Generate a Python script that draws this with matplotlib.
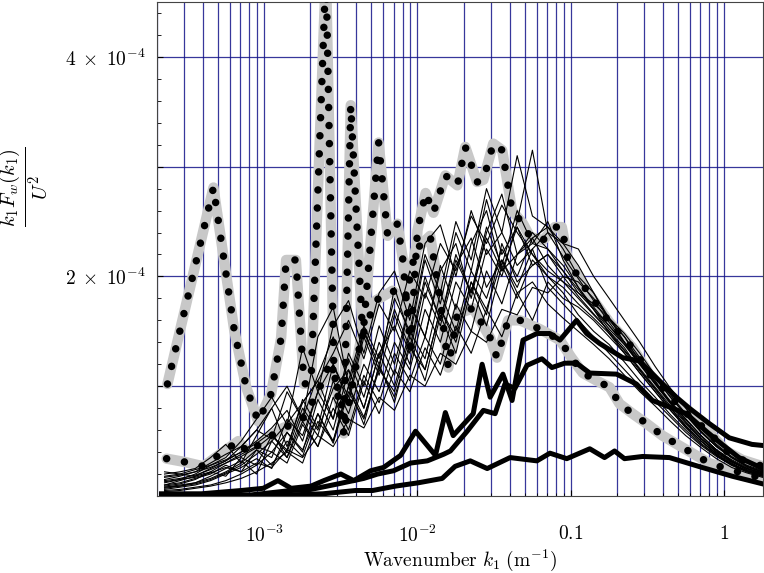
import matplotlib
matplotlib.use("Agg")
import matplotlib.pyplot as plt
from matplotlib.ticker import FixedLocator, LogLocator, NullFormatter

plt.rcParams['mathtext.fontset'] = 'cm'
plt.rcParams['font.family'] = 'serif'
plt.rcParams['font.serif'] = ['cmr10', 'DejaVu Serif']
plt.rcParams['axes.unicode_minus'] = False

SCALE = 1e-4  # all spectra below are stored in units of 1e-4

# wavenumber bins shared by the individual (thin) spectra
k_bins = [2.24e-4, 2.82e-4, 3.55e-4, 4.47e-4, 5.62e-4, 7.08e-4, 8.91e-4, 1.12e-3,
          1.41e-3, 1.78e-3, 2.24e-3, 2.82e-3, 3.55e-3, 4.47e-3, 5.62e-3, 7.08e-3,
          8.91e-3, 1.12e-2, 1.41e-2, 1.78e-2, 2.24e-2, 2.82e-2, 3.55e-2, 4.47e-2,
          5.62e-2, 7.08e-2, 8.91e-2, 0.112, 0.141, 0.178, 0.224, 0.282, 0.355,
          0.447, 0.562, 0.708, 0.891, 1.12, 1.41, 1.78]

thin_spectra = [
    [0.15, 0.18, 0.22, 0.30, 0.38, 0.45, 0.60, 0.52, 0.95, 0.70, 1.10, 1.45, 1.05, 1.55, 1.25, 1.80, 1.50, 2.20, 1.85, 2.50,
     2.15, 2.80, 2.40, 3.10, 2.55, 2.45, 2.25, 2.00, 1.85, 1.60, 1.45, 1.22, 1.05, 0.85, 0.70, 0.55, 0.42, 0.33, 0.26, 0.22],
    [0.10, 0.12, 0.16, 0.20, 0.28, 0.22, 0.42, 0.35, 0.70, 0.55, 0.95, 0.70, 1.25, 0.90, 1.40, 1.10, 1.75, 1.45, 2.10, 1.70,
     2.30, 2.60, 2.05, 2.20, 2.35, 2.10, 1.95, 1.80, 1.65, 1.50, 1.35, 1.15, 0.98, 0.80, 0.64, 0.50, 0.39, 0.30, 0.23, 0.19],
    [0.20, 0.22, 0.25, 0.35, 0.47, 0.30, 0.55, 0.80, 0.45, 0.85, 1.05, 0.70, 1.30, 1.00, 1.55, 1.20, 1.75, 1.45, 2.05, 2.30,
     1.80, 2.40, 2.75, 2.20, 2.30, 2.50, 2.15, 1.90, 1.70, 1.48, 1.30, 1.12, 0.95, 0.78, 0.62, 0.48, 0.37, 0.28, 0.22, 0.18],
    [0.05, 0.06, 0.08, 0.10, 0.14, 0.20, 0.28, 0.40, 0.30, 0.65, 0.45, 0.90, 0.60, 1.10, 0.85, 1.30, 1.05, 1.45, 1.20, 1.75,
     1.50, 2.05, 1.75, 2.20, 2.40, 2.25, 2.05, 1.85, 1.70, 1.52, 1.38, 1.20, 1.02, 0.85, 0.68, 0.53, 0.41, 0.31, 0.24, 0.20],
    [0.12, 0.15, 0.20, 0.28, 0.35, 0.50, 0.70, 0.90, 0.65, 1.35, 0.95, 1.55, 1.78, 1.30, 1.85, 2.05, 1.60, 2.30, 2.47, 2.00,
     2.60, 2.20, 2.40, 2.10, 2.25, 1.90, 1.75, 1.60, 1.45, 1.30, 1.15, 1.00, 0.86, 0.72, 0.58, 0.46, 0.36, 0.28, 0.22, 0.18],
    [0.08, 0.10, 0.12, 0.18, 0.25, 0.32, 0.20, 0.50, 0.35, 0.75, 0.55, 1.05, 0.75, 1.20, 0.95, 1.40, 1.15, 1.70, 1.40, 1.95,
     1.70, 2.25, 2.00, 2.50, 3.15, 2.40, 2.30, 2.10, 1.85, 1.62, 1.40, 1.20, 1.02, 0.84, 0.67, 0.52, 0.40, 0.31, 0.25, 0.21],
    [0.18, 0.20, 0.24, 0.28, 0.33, 0.40, 0.48, 0.58, 0.35, 0.68, 0.45, 0.80, 0.55, 1.05, 0.75, 1.15, 0.95, 1.35, 1.10, 1.55,
     1.30, 1.70, 1.45, 1.85, 1.60, 1.95, 1.80, 1.72, 1.60, 1.45, 1.30, 1.12, 0.95, 0.78, 0.63, 0.50, 0.38, 0.29, 0.23, 0.19],
    [0.10, 0.14, 0.18, 0.25, 0.32, 0.45, 0.60, 0.80, 1.00, 0.70, 1.45, 1.72, 1.00, 1.50, 1.20, 1.70, 1.35, 2.00, 1.60, 2.15,
     1.85, 2.35, 2.05, 2.45, 2.20, 2.00, 1.90, 1.75, 1.62, 1.48, 1.33, 1.16, 0.99, 0.82, 0.66, 0.52, 0.40, 0.31, 0.25, 0.21],
    [0.22, 0.20, 0.18, 0.22, 0.30, 0.38, 0.45, 0.40, 0.58, 0.42, 0.75, 0.50, 1.00, 0.65, 1.20, 0.85, 1.40, 1.05, 1.65, 1.30,
     1.90, 1.55, 2.10, 1.80, 2.15, 2.00, 1.85, 1.65, 1.50, 1.38, 1.22, 1.05, 0.90, 0.74, 0.60, 0.47, 0.37, 0.29, 0.23, 0.20],
    [0.06, 0.08, 0.10, 0.14, 0.20, 0.26, 0.34, 0.25, 0.58, 0.40, 0.88, 0.60, 1.15, 0.80, 1.30, 1.00, 1.50, 1.25, 1.85, 1.50,
     2.05, 1.80, 2.25, 2.00, 2.35, 2.45, 2.30, 2.25, 2.00, 1.80, 1.60, 1.40, 1.18, 0.98, 0.80, 0.62, 0.47, 0.36, 0.28, 0.23],
    [0.14, 0.16, 0.19, 0.24, 0.30, 0.36, 0.44, 0.55, 0.40, 0.80, 0.60, 0.98, 1.15, 0.80, 1.30, 1.55, 1.20, 1.85, 1.55, 2.10,
     2.35, 1.90, 2.15, 1.85, 1.95, 1.75, 1.62, 1.50, 1.38, 1.25, 1.10, 0.95, 0.82, 0.68, 0.55, 0.44, 0.34, 0.26, 0.21, 0.17],
    [0.08, 0.09, 0.12, 0.16, 0.22, 0.30, 0.42, 0.28, 0.50, 0.36, 0.75, 0.48, 0.95, 0.70, 1.18, 0.90, 1.35, 1.15, 1.70, 1.40,
     1.95, 1.65, 2.30, 1.95, 2.10, 2.20, 2.00, 1.82, 1.66, 1.50, 1.32, 1.14, 0.97, 0.80, 0.64, 0.50, 0.38, 0.29, 0.23, 0.19],
    [0.04, 0.05, 0.07, 0.09, 0.12, 0.16, 0.22, 0.30, 0.40, 0.30, 0.68, 0.50, 1.00, 0.72, 1.15, 0.95, 1.45, 1.15, 1.70, 1.45,
     1.95, 1.70, 2.15, 1.90, 2.25, 2.40, 2.18, 1.98, 1.78, 1.58, 1.40, 1.22, 1.04, 0.86, 0.70, 0.55, 0.42, 0.32, 0.25, 0.20],
    [0.17, 0.19, 0.22, 0.26, 0.32, 0.40, 0.50, 0.62, 0.78, 0.50, 0.95, 1.20, 0.85, 1.45, 1.10, 1.65, 1.30, 1.95, 1.60, 2.20,
     1.85, 2.45, 2.10, 2.60, 2.30, 2.25, 2.10, 1.90, 1.72, 1.55, 1.38, 1.20, 1.03, 0.86, 0.70, 0.55, 0.42, 0.32, 0.25, 0.21],
    [0.09, 0.11, 0.15, 0.22, 0.18, 0.35, 0.28, 0.55, 0.42, 0.88, 0.62, 1.20, 0.90, 1.50, 1.15, 1.90, 1.45, 2.15, 1.75, 2.40,
     2.05, 2.70, 2.20, 2.45, 2.10, 2.20, 2.05, 1.88, 1.70, 1.55, 1.40, 1.25, 1.08, 0.90, 0.74, 0.58, 0.45, 0.35, 0.27, 0.22],
    [0.13, 0.15, 0.17, 0.21, 0.26, 0.22, 0.30, 0.26, 0.42, 0.35, 0.55, 0.45, 0.70, 0.62, 0.90, 0.78, 1.10, 1.00, 1.30, 1.20,
     1.50, 1.40, 1.70, 1.65, 1.90, 1.85, 2.00, 1.95, 1.80, 1.62, 1.45, 1.26, 1.08, 0.90, 0.74, 0.58, 0.45, 0.35, 0.27, 0.22],
    [0.07, 0.09, 0.11, 0.15, 0.21, 0.28, 0.38, 0.50, 0.66, 0.85, 1.05, 1.30, 1.60, 1.25, 1.75, 1.50, 2.05, 1.80, 2.30, 2.05,
     2.55, 2.30, 2.65, 2.40, 2.20, 2.05, 1.95, 1.85, 1.75, 1.62, 1.48, 1.30, 1.10, 0.92, 0.75, 0.59, 0.46, 0.35, 0.27, 0.22],
]

# first averaged spectrum (dotted over grey)
k_mean_a = [2.34e-4, 4.67e-4, 6.38e-4, 7.64e-4, 9.14e-4, 1.11e-3, 1.29e-3, 1.39e-3, 1.61e-3, 1.82e-3,
            2.02e-3, 2.53e-3, 2.85e-3, 3.31e-3, 3.67e-3, 4.40e-3, 5.58e-3, 6.39e-3, 7.41e-3, 8.0e-3,
            9.01e-3, 1.0e-2, 1.13e-2, 1.27e-2, 1.52e-2, 1.82e-2, 2.05e-2, 2.45e-2, 2.69e-2, 3.12e-2,
            3.57e-2, 4.14e-2, 4.88e-2, 5.42e-2, 6.58e-2, 7.87e-2, 8.74e-2, 9.57e-2, 0.127, 0.179,
            0.253, 0.326, 0.44, 0.593, 0.80, 1.03, 1.31, 1.79]
f_mean_a = [1.02, 2.81, 1.51, 0.99, 0.68, 0.93, 1.44, 2.15, 2.15, 1.02,
            1.03, 4.80, 1.14, 0.57, 3.56, 1.44, 3.22, 2.37, 2.48, 2.17,
            1.35, 2.42, 2.76, 2.58, 2.92, 2.83, 3.18, 2.86, 2.88, 3.21,
            3.15, 2.60, 2.48, 2.36, 2.33, 2.45, 2.45, 2.15, 1.87, 1.58,
            1.35, 1.11, 0.91, 0.73, 0.58, 0.41, 0.33, 0.27]

# second averaged spectrum (dotted over grey)
k_mean_b = [2.31e-4, 3.03e-4, 4.02e-4, 5.03e-4, 6.78e-4, 7.87e-4, 9.86e-4, 1.33e-3, 1.74e-3, 2.18e-3,
            2.72e-3, 3.40e-3, 4.27e-3, 5.33e-3, 6.88e-3, 8.36e-3, 9.70e-3, 1.21e-2, 1.41e-2, 1.59e-2,
            1.82e-2, 2.31e-2, 2.98e-2, 3.30e-2, 3.90e-2, 4.67e-2, 6.29e-2, 8.49e-2, 0.101, 0.120,
            0.148, 0.179, 0.208, 0.253, 0.312, 0.396, 0.495, 0.620, 0.80, 1.03, 1.79]
f_mean_b = [0.34, 0.31, 0.27, 0.37, 0.50, 0.39, 0.50, 0.62, 0.68, 0.91,
            1.23, 0.68, 1.42, 1.78, 1.87, 1.78, 2.24, 2.37, 1.78, 1.17,
            1.66, 1.71, 1.44, 1.26, 1.60, 1.60, 1.52, 1.42, 1.26, 1.12,
            1.05, 0.99, 0.84, 0.75, 0.66, 0.55, 0.47, 0.39, 0.30, 0.25, 0.16]

# bold spectra
k_bold_1 = [2.14e-4, 3.90e-4, 7.09e-4, 9.86e-4, 1.23e-3, 1.50e-3, 2.02e-3, 2.45e-3, 3.16e-3, 3.84e-3,
            4.95e-3, 6.01e-3, 7.76e-3, 9.71e-3, 1.31e-2, 1.52e-2, 1.71e-2, 2.31e-2, 2.64e-2, 2.98e-2,
            3.61e-2, 4.14e-2, 4.88e-2, 6.01e-2, 7.31e-2, 8.49e-2, 0.109, 0.127, 0.154, 0.218,
            0.281, 0.378, 0.488, 0.593, 0.800, 1.08, 1.52, 1.79]
f_bold_1 = [0.02, 0.02, 0.05, 0.07, 0.14, 0.07, 0.09, 0.14, 0.20, 0.14,
            0.23, 0.26, 0.37, 0.59, 0.37, 0.76, 0.55, 0.75, 1.20, 0.90,
            1.11, 0.87, 1.42, 1.48, 1.48, 1.42, 1.60, 1.48, 1.39, 1.26,
            1.23, 1.05, 0.90, 0.80, 0.66, 0.53, 0.47, 0.46]

k_bold_2 = [2.14e-4, 8.24e-4, 1.50e-3, 2.02e-3, 3.03e-3, 4.46e-3, 5.50e-3, 6.98e-3, 9.01e-3, 1.16e-2,
            1.48e-2, 1.64e-2, 2.11e-2, 2.69e-2, 3.21e-2, 3.72e-2, 4.32e-2, 5.18e-2, 6.48e-2, 7.53e-2,
            9.14e-2, 0.109, 0.133, 0.199, 0.268, 0.341, 0.459, 0.566, 0.764, 0.971, 1.25, 1.79]
f_bold_2 = [0.00, 0.01, 0.05, 0.06, 0.11, 0.16, 0.20, 0.23, 0.30, 0.32,
            0.38, 0.41, 0.59, 0.78, 0.75, 1.02, 0.98, 1.19, 1.25, 1.17,
            1.21, 1.21, 1.12, 1.11, 1.02, 0.87, 0.80, 0.75, 0.59, 0.47, 0.35, 0.25]

k_bold_3 = [2.14e-4, 8.87e-4, 2.42e-3, 3.95e-3, 5.10e-3, 7.19e-3, 1.01e-2, 1.45e-2, 1.76e-2, 2.21e-2,
            2.85e-2, 4.02e-2, 6.01e-2, 7.31e-2, 9.42e-2, 0.133, 0.166, 0.193, 0.224, 0.294,
            0.440, 0.719, 1.13, 1.79]
f_bold_3 = [0.00, 0.00, 0.02, 0.05, 0.05, 0.09, 0.12, 0.16, 0.27, 0.32,
            0.25, 0.35, 0.32, 0.39, 0.34, 0.43, 0.35, 0.41, 0.34, 0.36,
            0.35, 0.26, 0.18, 0.11]


def scaled(vals):
    return [v * SCALE for v in vals]


fig = plt.figure(figsize=(7.64, 5.73), dpi=100)
ax = fig.add_axes([0.2055, 0.1344, 0.7935, 0.8621])

ax.set_xscale('log')
ax.set_xlim(2.0e-4, 1.8)
ax.set_ylim(0, 4.5e-4)

grid_kw = dict(color='#14148a', linewidth=0.9, alpha=0.85, zorder=0)
ax.xaxis.set_major_locator(FixedLocator([1e-3, 1e-2, 1e-1, 1.0]))
ax.xaxis.set_minor_locator(LogLocator(base=10, subs=range(2, 10), numticks=20))
ax.xaxis.set_minor_formatter(NullFormatter())
ax.set_xticklabels([r'$10^{-3}$', r'$10^{-2}$', r'$0.1$', r'$1$'])
ax.grid(True, which='both', axis='x', **grid_kw)

ax.set_yticks([1e-4, 2e-4, 3e-4, 4e-4])
ax.set_yticklabels(['', r'$2\;\times\;10^{-4}$', '', r'$4\;\times\;10^{-4}$'])
ax.yaxis.set_minor_locator(FixedLocator([i * 2e-5 for i in range(1, 23)]))
ax.grid(True, which='major', axis='y', **grid_kw)
ax.set_axisbelow(True)

ax.tick_params(axis='both', which='both', direction='in', labelsize=14)
ax.tick_params(axis='x', which='major', length=4, pad=21)
ax.tick_params(axis='x', which='minor', length=2)
ax.tick_params(axis='y', which='major', length=4, pad=8)
ax.tick_params(axis='y', which='minor', length=3)
for side in ['top', 'bottom', 'left', 'right']:
    ax.spines[side].set_color('#444444')

# grey halo under the two averaged spectra
for k, f in [(k_mean_a, f_mean_a), (k_mean_b, f_mean_b)]:
    ax.plot(k, scaled(f), color='#c8c8c8', linewidth=7.5,
            solid_joinstyle='round', solid_capstyle='round', zorder=2)

for f in thin_spectra:
    ax.plot(k_bins, scaled(f), color='black', linewidth=0.8, zorder=3)

for k, f in [(k_mean_a, f_mean_a), (k_mean_b, f_mean_b)]:
    ax.plot(k, scaled(f), color='black', linewidth=5.4,
            linestyle=(0, (0.01, 2.4)), dash_capstyle='round', zorder=4)

for k, f in [(k_bold_1, f_bold_1), (k_bold_2, f_bold_2), (k_bold_3, f_bold_3)]:
    ax.plot(k, scaled(f), color='black', linewidth=3.6,
            solid_joinstyle='round', zorder=5)

ax.set_xlabel(r'$\mathrm{Wavenumber}\ k_1\ (\mathrm{m}^{-1})$', fontsize=14, labelpad=1)
fig.text(0.031, 0.674, r'$\frac{k_1 F_w(k_1)}{U^2}$', rotation=90,
         fontsize=21, ha='center', va='center')

fig.savefig('out.png', dpi=100)
